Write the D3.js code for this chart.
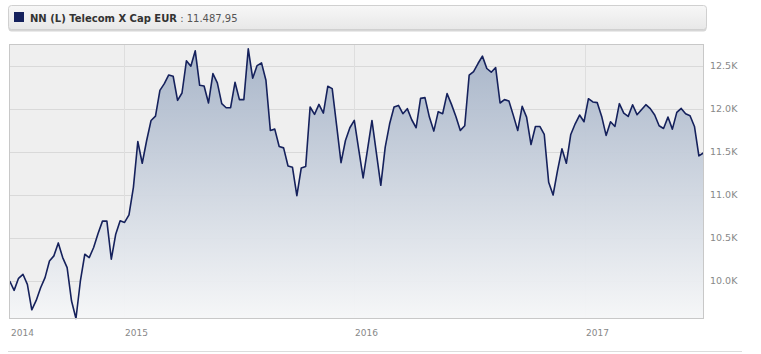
<!DOCTYPE html>
<html>
<head>
<meta charset="utf-8">
<script src="https://cdn.jsdelivr.net/npm/d3@7"></script>
<style>
  body { margin: 0; background: #fff; }
  text { font-family: "DejaVu Sans", Verdana, sans-serif; }
</style>
</head>
<body>
<script>
// weekly values (first point ~ early July 2014)
var startDate = new Date(2014, 6, 4);

var values = [
  10000, 9891, 10031, 10078, 9961, 9665, 9774, 9922, 10039, 10233,
  10292, 10443, 10272, 10156, 9767, 9564, 10000, 10311, 10272, 10389,
  10552, 10696, 10696, 10253, 10545, 10700, 10681, 10770, 11089, 11622,
  11369, 11634, 11867, 11918, 12217, 12295, 12396, 12381, 12101, 12186,
  12560, 12498, 12677, 12276, 12268, 12070, 12412, 12303, 12062, 12015,
  12015, 12311, 12109, 12109, 12700, 12358, 12505, 12536, 12334, 11751,
  11766, 11564, 11548, 11338, 11323, 10992, 11315, 11331, 12023, 11937,
  12054, 11953, 12264, 12237, 11809, 11377, 11634, 11782, 11867,
  11530, 11198, 11530, 11867, 11490, 11113, 11556, 11828, 12023, 12042,
  11945, 12004, 11875, 11782, 12124, 12132, 11906, 11743, 11969, 11945,
  12179, 12054, 11914, 11751, 11805, 12393, 12436, 12529, 12615, 12471,
  12428, 12482, 12070, 12109, 12093, 11926, 11751, 12031, 11906, 11587,
  11797, 11797, 11704, 11148, 11000, 11284, 11537, 11369, 11704, 11828,
  11930, 11852, 12120, 12082, 12074, 11914, 11693, 11852, 11797, 12062,
  11953, 11914, 12050, 11934, 11992, 12050, 12004, 11930, 11805, 11774,
  11906, 11766, 11961, 12007, 11945, 11922, 11797, 11455, 11488
];

var yTicks = [10000, 10500, 11000, 11500, 12000, 12500];
var yTickLabels = ["10.0K", "10.5K", "11.0K", "11.5K", "12.0K", "12.5K"];
var yearTicks = [new Date(2015, 0, 1), new Date(2016, 0, 1), new Date(2017, 0, 1)];
var xTickLabels = ["2014", "2015", "2016", "2017"];

var seriesName = "NN (L) Telecom X Cap EUR";
var lastValue = "11.487,95";

var data = values.map(function(v, i) {
  return { date: d3.timeDay.offset(startDate, i * 7), value: v };
});

var plot = {left: 9, right: 704, top: 44, bottom: 319};

var svg = d3.select("body").append("svg")
  .attr("width", 761)
  .attr("height", 354);

var defs = svg.append("defs");

var hdrGrad = defs.append("linearGradient")
  .attr("id", "hdrGrad")
  .attr("x1", 0).attr("y1", 0).attr("x2", 0).attr("y2", 1);
hdrGrad.append("stop").attr("offset", "0%").attr("stop-color", "#f7f7f7");
hdrGrad.append("stop").attr("offset", "100%").attr("stop-color", "#e8e8e8");

var areaGrad = defs.append("linearGradient")
  .attr("id", "areaGrad")
  .attr("gradientUnits", "userSpaceOnUse")
  .attr("x1", 0).attr("y1", plot.top).attr("x2", 0).attr("y2", plot.bottom);
areaGrad.append("stop").attr("offset", "0%").attr("stop-color", "#a3b1c6");
areaGrad.append("stop").attr("offset", "100%").attr("stop-color", "#f6f7f8");

// header box
svg.append("rect")
  .attr("x", 8.5).attr("y", 6.5)
  .attr("width", 698).attr("height", 25)
  .attr("rx", 3)
  .attr("fill", "#d6d6d6");
svg.append("rect")
  .attr("x", 8.5).attr("y", 5.5)
  .attr("width", 698).attr("height", 24)
  .attr("rx", 3)
  .attr("fill", "url(#hdrGrad)")
  .attr("stroke", "#d0d0d0");

svg.append("rect")
  .attr("x", 14).attr("y", 12)
  .attr("width", 10).attr("height", 10)
  .attr("fill", "#15215c");

var title = svg.append("text")
  .attr("x", 30).attr("y", 22)
  .attr("font-size", "10px");
title.append("tspan")
  .attr("font-weight", "bold")
  .attr("fill", "#333")
  .text(seriesName);
title.append("tspan")
  .attr("fill", "#555")
  .text(" : " + lastValue);

// scales
var x = d3.scaleTime()
  .domain(d3.extent(data, d => d.date))
  .range([plot.left + 0.7, plot.right - 0.7]);

var y = d3.scaleLinear()
  .domain([9558, 12756])
  .range([plot.bottom, plot.top]);

// plot background
svg.append("rect")
  .attr("x", plot.left).attr("y", plot.top)
  .attr("width", plot.right - plot.left).attr("height", plot.bottom - plot.top)
  .attr("fill", "#efefef");

// grid
svg.append("g").selectAll("line")
  .data(yTicks)
  .enter().append("line")
  .attr("x1", plot.left).attr("x2", plot.right)
  .attr("y1", d => Math.round(y(d)) + 0.5)
  .attr("y2", d => Math.round(y(d)) + 0.5)
  .attr("stroke", "#d9d9d9");

svg.append("g").selectAll("line")
  .data(yearTicks)
  .enter().append("line")
  .attr("x1", d => Math.round(x(d)) + 0.5)
  .attr("x2", d => Math.round(x(d)) + 0.5)
  .attr("y1", plot.top).attr("y2", plot.bottom)
  .attr("stroke", "#dedede");

// area + line
var area = d3.area()
  .x(d => x(d.date))
  .y0(plot.bottom)
  .y1(d => y(d.value));

var line = d3.line()
  .x(d => x(d.date))
  .y(d => y(d.value));

svg.append("path")
  .datum(data)
  .attr("d", area)
  .attr("fill", "url(#areaGrad)")
  .attr("fill-opacity", 0.95);

svg.append("path")
  .datum(data)
  .attr("d", line)
  .attr("fill", "none")
  .attr("stroke", "#15215c")
  .attr("stroke-width", 1.6)
  .attr("stroke-linejoin", "round");

// border
svg.append("rect")
  .attr("x", plot.left + 0.5).attr("y", plot.top + 0.5)
  .attr("width", plot.right - plot.left - 1).attr("height", plot.bottom - plot.top - 1)
  .attr("fill", "none")
  .attr("stroke", "#c8c8c8");

// y labels
svg.append("g").selectAll("text")
  .data(yTicks)
  .enter().append("text")
  .attr("x", plot.right + 6)
  .attr("y", d => y(d))
  .attr("dy", "0.35em")
  .attr("font-size", "9.5px")
  .attr("fill", "#888")
  .text((d, i) => yTickLabels[i]);

// x labels (first one sits at the start of the data)
var xLabelDates = [x.domain()[0]].concat(yearTicks);
svg.append("g").selectAll("text")
  .data(xLabelDates)
  .enter().append("text")
  .attr("x", d => Math.round(x(d)) + 1)
  .attr("y", 336)
  .attr("font-size", "9px")
  .attr("fill", "#888")
  .text((d, i) => xTickLabels[i]);

// bottom rule
svg.append("line")
  .attr("x1", 8).attr("x2", 742)
  .attr("y1", 351.5).attr("y2", 351.5)
  .attr("stroke", "#dcdcdc");
</script>
</body>
</html>
